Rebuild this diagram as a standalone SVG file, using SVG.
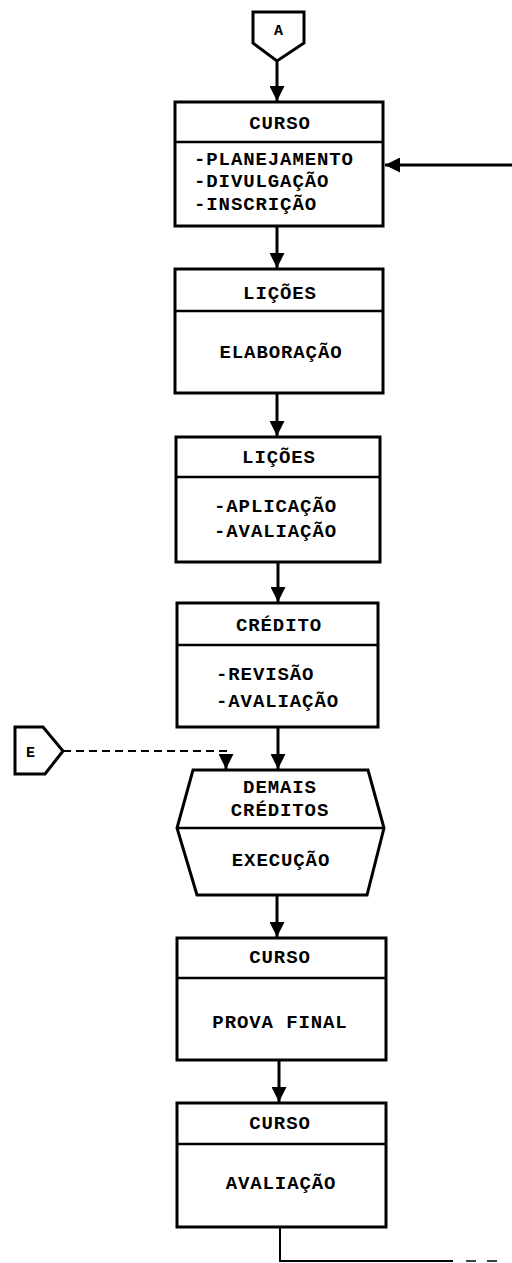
<svg xmlns="http://www.w3.org/2000/svg" width="512" height="1263" viewBox="0 0 512 1263">
<style>
.box{fill:#fff;stroke:#000;stroke-width:3;stroke-linejoin:miter}
.div{stroke:#000;stroke-width:2.5}
.ln{stroke:#000;stroke-width:3;fill:none}
.dash{stroke:#000;stroke-width:2;fill:none;stroke-dasharray:8,5}
.t{font-family:"Liberation Mono","DejaVu Sans Mono",monospace;font-weight:bold;font-size:19px;letter-spacing:0.9px;fill:#000}
.c{text-anchor:middle}
</style>
<defs>
<marker id="ah" viewBox="0 0 10 10" refX="10" refY="5" markerWidth="15" markerHeight="15" markerUnits="userSpaceOnUse" orient="auto">
<path d="M0,0 L10,5 L0,10 z" fill="#000"/>
</marker>
</defs>
<g id="connectors">
<line class="ln" x1="277" y1="61" x2="277" y2="101" marker-end="url(#ah)"/>
<line class="ln" x1="512" y1="165" x2="385" y2="165" marker-end="url(#ah)"/>
<line class="ln" x1="277" y1="227" x2="277" y2="268" marker-end="url(#ah)"/>
<line class="ln" x1="277" y1="394" x2="277" y2="436" marker-end="url(#ah)"/>
<line class="ln" x1="278" y1="562" x2="278" y2="602" marker-end="url(#ah)"/>
<line class="ln" x1="278" y1="727" x2="278" y2="769" marker-end="url(#ah)"/>
<polyline class="dash" points="63,751 226,751 226,758"/>
<line class="ln" x1="226" y1="756" x2="226" y2="769" marker-end="url(#ah)"/>
<line class="ln" x1="277" y1="895" x2="277" y2="937" marker-end="url(#ah)"/>
<line class="ln" x1="279" y1="1060" x2="279" y2="1102" marker-end="url(#ah)"/>
<polyline class="ln" points="280,1227 280,1261 453,1261" style="stroke-width:2"/>
<line x1="466" y1="1261" x2="476" y2="1261" stroke="#000" stroke-width="1.5"/>
<line x1="487" y1="1261" x2="497" y2="1261" stroke="#000" stroke-width="1.5"/>
</g>
<g id="connA">
<polygon class="box" points="253,12 304,12 304,43 277,61 253,43"/>
<text class="t c" x="279" y="35" style="font-size:15px">A</text>
</g>
<g id="connE">
<polygon class="box" points="15,727 43,727 63,751 45,774 15,774"/>
<text class="t c" x="31" y="757" style="font-size:15px">E</text>
</g>
<g id="n1">
<rect class="box" x="175" y="102" width="208" height="124"/>
<line class="div" x1="175" y1="142" x2="383" y2="142"/>
<text class="t c" x="280" y="129">CURSO</text>
<text class="t" x="194" y="165">-PLANEJAMENTO</text>
<text class="t" x="194" y="187">-DIVULGAÇÃO</text>
<text class="t" x="194" y="210">-INSCRIÇÃO</text>
</g>
<g id="n2">
<rect class="box" x="175" y="269" width="208" height="124"/>
<line class="div" x1="175" y1="311" x2="383" y2="311"/>
<text class="t c" x="280" y="299">LIÇÕES</text>
<text class="t c" x="281" y="358">ELABORAÇÃO</text>
</g>
<g id="n3">
<rect class="box" x="176" y="437" width="204" height="125"/>
<line class="div" x1="176" y1="477" x2="380" y2="477"/>
<text class="t c" x="279" y="463">LIÇÕES</text>
<text class="t" x="214" y="512">-APLICAÇÃO</text>
<text class="t" x="214" y="537">-AVALIAÇÃO</text>
</g>
<g id="n4">
<rect class="box" x="177" y="603" width="201" height="124"/>
<line class="div" x1="177" y1="645" x2="378" y2="645"/>
<text class="t c" x="279" y="631">CRÉDITO</text>
<text class="t" x="216" y="680">-REVISÃO</text>
<text class="t" x="216" y="707">-AVALIAÇÃO</text>
</g>
<g id="n5">
<polygon class="box" points="193,770 368,770 384,828 367,895 197,895 177,828"/>
<line class="div" x1="177" y1="828" x2="384" y2="828"/>
<text class="t c" x="280" y="793">DEMAIS</text>
<text class="t c" x="280" y="816">CRÉDITOS</text>
<text class="t c" x="281" y="866">EXECUÇÃO</text>
</g>
<g id="n6">
<rect class="box" x="177" y="938" width="209" height="122"/>
<line class="div" x1="177" y1="978" x2="386" y2="978"/>
<text class="t c" x="280" y="963">CURSO</text>
<text class="t c" x="280" y="1028">PROVA FINAL</text>
</g>
<g id="n7">
<rect class="box" x="177" y="1103" width="209" height="124"/>
<line class="div" x1="177" y1="1144" x2="386" y2="1144"/>
<text class="t c" x="280" y="1129">CURSO</text>
<text class="t c" x="281" y="1189">AVALIAÇÃO</text>
</g>
</svg>
